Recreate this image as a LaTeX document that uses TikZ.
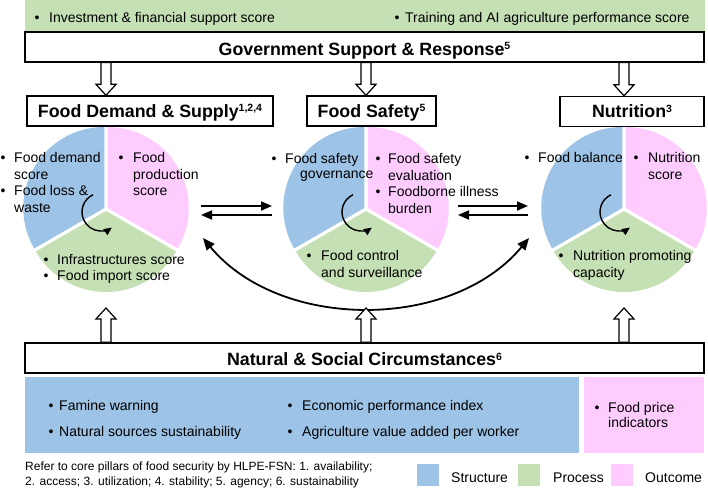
\documentclass[tikz,border=0pt]{standalone}
\usepackage{fontspec}
\setmainfont{Liberation Sans}
\usetikzlibrary{arrows.meta,calc}
\definecolor{cblue}{HTML}{9DC3E6}
\definecolor{cpink}{HTML}{FFCCFF}
\definecolor{cgreen}{HTML}{C5E0B4}
\newcommand{\sutxt}[1]{\raisebox{5.5pt}{\fontsize{10.5}{10}\selectfont #1}}
\newcommand{\hadown}[2]{\path[hollow] let \p1=(#1), \p2=(#2) in (\x1-5pt,\y1) -- (\x1-5pt,\y2+11pt) -- (\x1-10pt,\y2+11pt) -- (\x1,\y2) -- (\x1+10pt,\y2+11pt) -- (\x1+5pt,\y2+11pt) -- (\x1+5pt,\y1) -- cycle;}
\newcommand{\haup}[2]{\path[hollow] let \p1=(#1), \p2=(#2) in (\x1-5pt,\y1) -- (\x1-5pt,\y2-11pt) -- (\x1-10pt,\y2-11pt) -- (\x1,\y2) -- (\x1+10pt,\y2-11pt) -- (\x1+5pt,\y2-11pt) -- (\x1+5pt,\y1) -- cycle;}
\newcommand{\foodpie}[1]{%
 \fill[cblue] ($(#1)+(150:2)$) -- ++(90:81) arc[start angle=90,end angle=210,radius=81] -- cycle;
 \fill[cpink] ($(#1)+(30:2)$) -- ++(-30:81) arc[start angle=-30,end angle=90,radius=81] -- cycle;
 \fill[cgreen] ($(#1)+(270:2)$) -- ++(210:81) arc[start angle=210,end angle=330,radius=81] -- cycle;
 \draw[cyc] ($(#1)+(-5,-3)$) ++(115:19) arc[start angle=115,end angle=305,radius=19];
}
\newcommand{\bitem}[5]{%
 \node[bul] (#1b) at (#2,#4) {\textbullet};
 \node[txt] (#1) at (#3,#4) {\begin{tabular}[t]{@{}l@{}}#5\end{tabular}};}
\begin{document}
\begin{tikzpicture}[x=1pt,y=1pt,
 tbox/.style={draw=black, line width=1.3pt, fill=white, inner sep=0pt},
 ttl/.style={font=\fontsize{17.8}{20}\selectfont\bfseries, text height=12.7pt, text depth=0pt},
 txt/.style={font=\fontsize{14}{16.5}\selectfont, anchor=base west, inner sep=0pt},
 bul/.style={font=\fontsize{14}{16.5}\selectfont, anchor=base, inner sep=0pt},
 conn/.style={line width=1.8pt, -{Triangle[length=11pt,width=9pt]}},
 cyc/.style={line width=1.4pt, -{Triangle[length=8pt,width=7pt]}},
 hollow/.style={draw=black, fill=white, line width=1.2pt, line join=miter},
 swatch/.style={inner sep=0pt, minimum width=22pt, minimum height=22pt, anchor=south west},
 leg/.style={font=\fontsize{14}{16.5}\selectfont, anchor=base west, inner sep=0pt},
]
\useasboundingbox (0,0) rectangle (708,487);

% top green band
\node[fill=cgreen, inner sep=0pt, minimum width=680pt, minimum height=32pt, anchor=south west] (band) at (25,455) {};
\bitem{inv}{37}{49}{464}{Investment \& financial support score}
\bitem{trn}{397}{405}{464}{Training and AI agriculture performance score}

% government box
\node[tbox, ttl, text height=16.7pt, minimum width=679pt, minimum height=30pt] (gov) at (364.5,440) {Government Support \& Response\sutxt{5}};

% panel titles
\node[tbox, ttl, minimum width=246pt, minimum height=30pt] (fds) at (150,376) {Food Demand \& Supply\sutxt{1,2,4}};
\node[tbox, ttl, minimum width=129pt, minimum height=30pt] (fs) at (371.5,376) {Food Safety\sutxt{5}};
\node[tbox, ttl, minimum width=144pt, minimum height=30pt] (nut) at (632,375.5) {Nutrition\sutxt{3}};

% pies
\coordinate (pieL) at (106,278);
\coordinate (pieM) at (366,278);
\coordinate (pieR) at (624,278);
\foodpie{pieL}
\foodpie{pieM}
\foodpie{pieR}

% top hollow arrows
\hadown{gov.south -| pieL}{fds.north -| pieL}
\hadown{gov.south -| pieM}{fs.north -| pieM}
\hadown{gov.south -| pieR}{nut.north -| pieR}

% pie texts: left
\bitem{fd}{3}{14}{324}{Food demand\\score}
\bitem{fl}{3}{14}{291}{Food loss \&\\waste}
\bitem{fp}{121}{133}{324}{Food\\production\\score}
\bitem{inf}{46}{57}{222}{Infrastructures score}
\bitem{fim}{46}{57}{206}{Food import score}
% middle
\bitem{fsg}{274}{285}{323}{Food safety}
\node[txt] (gvn) at (300,308) {governance};
\bitem{fse}{378}{388}{323}{Food safety\\evaluation}
\bitem{fbi}{378}{388}{290}{Foodborne illness\\burden}
\bitem{fcs}{309}{321}{226}{Food control\\and surveillance}
% right
\bitem{fbl}{527}{538}{324}{Food balance}
\bitem{nsc}{636}{648}{324}{Nutrition\\score}
\bitem{npc}{561}{573}{226}{Nutrition promoting\\capacity}

% horizontal double arrows
\coordinate (lm1) at (201,281); \coordinate (lm2) at (272,281);
\coordinate (lm3) at (201,272); \coordinate (lm4) at (272,272);
\draw[conn] (lm1) -- (lm2);
\draw[conn] (lm4) -- (lm3);
\coordinate (mr1) at (458,281); \coordinate (mr2) at (528,281);
\coordinate (mr3) at (458,272); \coordinate (mr4) at (528,272);
\draw[conn] (mr1) -- (mr2);
\draw[conn] (mr4) -- (mr3);

% big curved arrow
\coordinate (cvL) at (203,249);
\coordinate (cvR) at (529,249);
\draw[line width=1.8pt, {Triangle[length=12pt,width=10pt]}-{Triangle[length=12pt,width=10pt]}] (cvL) .. controls (280,156) and (452,156) .. (cvR);

% natural box
\node[tbox, ttl, text height=15.7pt, minimum width=679pt, minimum height=30pt] (nat) at (364.5,129) {Natural \& Social Circumstances\sutxt{6}};
\coordinate (upL) at (106,179);
\coordinate (upM) at (366,179);
\coordinate (upR) at (624,179);
\haup{nat.north -| upL}{upL}
\haup{nat.north -| upM}{upM}
\haup{nat.north -| upR}{upR}

% structure / outcome boxes
\node[fill=cblue, inner sep=0pt, minimum width=554pt, minimum height=76pt, anchor=south west] (strbox) at (25,34) {};
\node[fill=cpink, inner sep=0pt, minimum width=120pt, minimum height=76pt, anchor=south west] (outbox) at (584,34) {};
\bitem{fam}{51}{59}{77}{Famine warning}
\bitem{nss}{51}{59}{51}{Natural sources sustainability}
\bitem{epi}{290}{302}{77}{Economic performance index}
\bitem{ava}{290}{302}{51}{Agriculture value added per worker}
\node[bul] (fpib) at (597,75) {\textbullet};
\node[txt, font=\fontsize{14}{15}\selectfont] (fpi) at (608,75) {\begin{tabular}[t]{@{}l@{}}Food price\\indicators\end{tabular}};

% footnote
\node[anchor=base west, inner sep=0pt, font=\fontsize{12}{15}\selectfont] (note) at (25,17) {\begin{tabular}[t]{@{}l@{}}Refer to core pillars of food security by HLPE-FSN: 1. availability;\\2. access; 3. utilization; 4. stability; 5. agency; 6. sustainability\end{tabular}};

% legend
\node[swatch, fill=cblue] (sw1) at (417,1) {};
\node[leg] (lg1) at (451,5) {Structure};
\node[swatch, fill=cgreen] (sw2) at (518,1) {};
\node[leg] (lg2) at (553,5) {Process};
\node[swatch, fill=cpink] (sw3) at (611,1) {};
\node[leg] (lg3) at (645,5) {Outcome};
\end{tikzpicture}
\end{document}
